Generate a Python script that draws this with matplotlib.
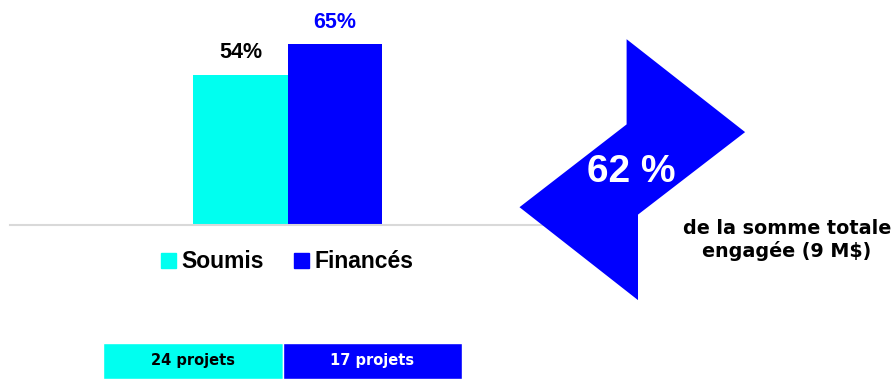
import matplotlib
matplotlib.use('Agg')
import matplotlib.pyplot as plt
from matplotlib.patches import Polygon

# data
categories = ['Soumis', 'Financés']
values = [54, 65]
project_labels = ['24 projets', '17 projets']
share_label = '62 %'
share_text = 'de la somme totale\nengagée (9 M$)'

CYAN = '#00FFF0'
BLUE = '#0000FF'
W, H = 892, 379

fig = plt.figure(figsize=(W / 100, H / 100), dpi=100)


def box(x0, y0, x1, y1):
    # pixel box (top-left origin) -> figure fraction rect
    return [x0 / W, 1 - y1 / H, (x1 - x0) / W, (y1 - y0) / H]


# bar chart
ax = fig.add_axes(box(10, 0, 545, 225))
bars = ax.bar([-0.5, 0.5], values, width=1.0, color=[CYAN, BLUE])
ax.set_xlim(-2.94, 2.72)
ax.set_ylim(0, 80.8)
for s in ['top', 'right', 'left']:
    ax.spines[s].set_visible(False)
ax.spines['bottom'].set_color('#D9D9D9')
ax.spines['bottom'].set_linewidth(1.5)
ax.set_xticks([])
ax.set_yticks([])
ax.patch.set_alpha(0)

label_colors = ['black', BLUE]
for b, v, c in zip(bars, values, label_colors):
    ax.text(b.get_x() + b.get_width() / 2, v + 4, f'{v}%', ha='center', va='bottom',
            fontsize=15.5, fontweight='bold', color=c, family='Liberation Sans')

handles = [plt.Rectangle((0, 0), 1, 1, color=c) for c in [CYAN, BLUE]]
fig.legend(handles, categories, loc='center', bbox_to_anchor=(287 / W, 1 - 262 / H),
           ncol=2, frameon=False, handlelength=0.65, handleheight=0.65, handletextpad=0.25,
           columnspacing=1.3, prop={'family': 'Liberation Sans', 'weight': 'bold', 'size': 16.5})

# project count cells
axp = fig.add_axes(box(103, 343, 462, 379))
cells = axp.bar([0, 1], [1, 1], width=1.0, color=[CYAN, BLUE], edgecolor='white', linewidth=1)
for b, t, c in zip(cells, project_labels, ['black', 'white']):
    axp.text(b.get_x() + b.get_width() / 2, 0.5, t, ha='center', va='center',
             fontsize=10.5, fontweight='bold', color=c, family='DejaVu Sans')
axp.set_xlim(-0.5, 1.5)
axp.set_ylim(0, 1)
axp.axis('off')

# arrow shape overlay in pixel coords
ov = fig.add_axes([0, 0, 1, 1])
ov.set_xlim(0, W)
ov.set_ylim(H, 0)
ov.axis('off')
ov.patch.set_alpha(0)
arrow = Polygon([(626.6, 39.2), (745.1, 132.1), (638.0, 214.6), (638.0, 300.1),
                 (519.5, 207.2), (626.6, 124.4)], closed=True, color=BLUE, lw=0)
ov.add_patch(arrow)
ov.text(631, 172, share_label, ha='center', va='center', color='white',
        fontsize=28, fontweight='bold', family='Liberation Sans')
ov.text(787, 240, share_text, ha='center', va='center', color='black',
        fontsize=13.8, fontweight='bold', family='DejaVu Sans', linespacing=1.15)

fig.savefig('out.png', dpi=100)
